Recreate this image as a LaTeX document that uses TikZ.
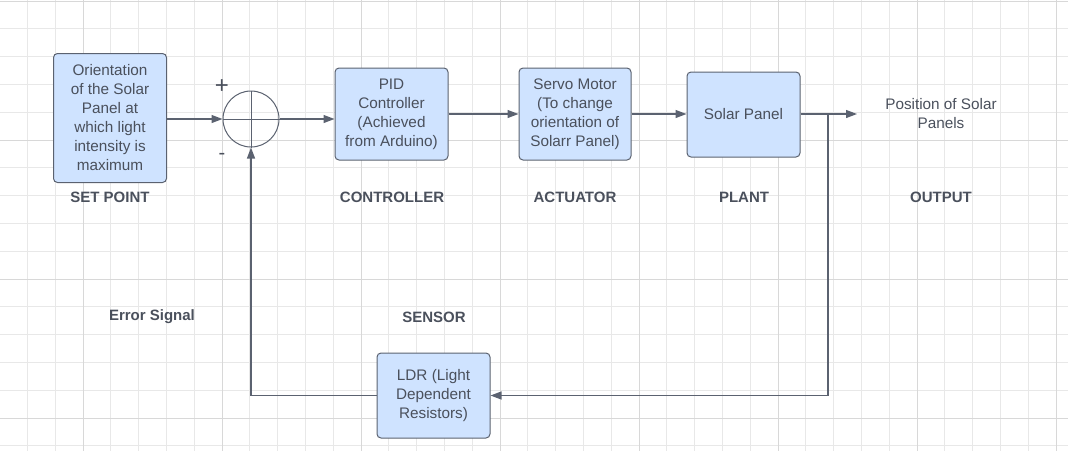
\documentclass[tikz,border=0pt]{standalone}
\usepackage{fontspec}
\setmainfont{Liberation Sans}
\usetikzlibrary{arrows.meta}
\definecolor{boxfill}{HTML}{CFE3FF}
\definecolor{boxline}{HTML}{5B6270}
\definecolor{txt}{HTML}{4A505C}
\definecolor{gridminor}{HTML}{E8E8E8}
\definecolor{gridmajor}{HTML}{D8D8D8}
\begin{document}
\begin{tikzpicture}[x=1pt,y=-1pt,
	block/.style={draw=boxline,fill=boxfill,rounded corners=4pt,line width=1pt,
		text=txt,align=center,font=\fontsize{15.3}{19}\selectfont,inner sep=2pt},
	tag/.style={text=txt,font=\bfseries\fontsize{15}{19}\selectfont},
	note/.style={text=txt,align=center,font=\fontsize{15.3}{19}\selectfont},
	wire/.style={draw=boxline,line width=1.2pt},
	arr/.style={wire,-{Triangle[length=11pt,width=8pt]}}]
	% background grid
	\useasboundingbox (0,0) rectangle (1068,451);
	\foreach \i in {0,...,37}
		\draw[gridminor,line width=0.8pt] (27.4+27.8*\i,0) -- (27.4+27.8*\i,451);
	\foreach \i in {0,...,16}
		\draw[gridminor,line width=0.8pt] (0,1+27.8*\i) -- (1068,1+27.8*\i);
	\foreach \i in {0,...,7}
		\draw[gridmajor,line width=0.8pt] (83+139*\i,0) -- (83+139*\i,451);
	\foreach \i in {0,...,3}
		\draw[gridmajor,line width=0.8pt] (0,1+139*\i) -- (1068,1+139*\i);
	% blocks
	\node[block,minimum width=113pt,minimum height=129pt] (setpt) at (110,118)
		{Orientation\\of the Solar\\Panel at\\which light\\intensity is\\maximum};
	\node[draw=boxline,line width=1pt,circle,minimum size=56pt,inner sep=0pt] (sum) at (251,119) {};
	\draw[wire,line width=1pt] (sum.west) -- (sum.east) (sum.north) -- (sum.south);
	\node[block,minimum width=113pt,minimum height=92pt] (pid) at (391.5,114)
		{PID\\Controller\\(Achieved\\from Arduino)};
	\node[block,minimum width=112pt,minimum height=92pt] (servo) at (575,114)
		{Servo Motor\\(To change\\orientation of\\Solarr Panel)};
	\node[block,minimum width=113pt,minimum height=85pt] (panel) at (743.5,114.5)
		{Solar Panel};
	\node[block,minimum width=113pt,minimum height=85pt] (ldr) at (433.5,395.5)
		{LDR (Light\\Dependent\\Resistors)};
	\node[note] (pos) at (941,114) {Position of Solar\\Panels};
	\coordinate (outend) at (857,114);
	\coordinate (tap) at (828,114);
	% signs and captions
	\node[text=txt,font=\fontsize{24}{24}\selectfont] (plus) at (222,87) {+};
	\node[text=txt,font=\fontsize{20}{20}\selectfont] (minus) at (222,156) {-};
	\node[tag] (lsp) at (110,197) {SET POINT};
	\node[tag] (lctrl) at (392,197) {CONTROLLER};
	\node[tag] (lact) at (575,197) {ACTUATOR};
	\node[tag] (lplant) at (744,197) {PLANT};
	\node[tag] (lout) at (941,197) {OUTPUT};
	\node[tag] (lerr) at (152,317) {Error Signal};
	\node[tag] (lsens) at (434,317) {SENSOR};
	% connectors
	\draw[arr] (setpt.east |- sum.west) -- (sum.west);
	\draw[arr] (sum.east) -- (pid.west |- sum.east);
	\draw[arr] (pid.east) -- (servo.west);
	\draw[arr] (servo.east) -- (panel.west |- servo.east);
	\draw[arr] (panel.east |- outend) -- (outend);
	\draw[arr] (tap) |- (ldr.east);
	\draw[arr] (ldr.west) -| (sum.south);
\end{tikzpicture}
\end{document}
